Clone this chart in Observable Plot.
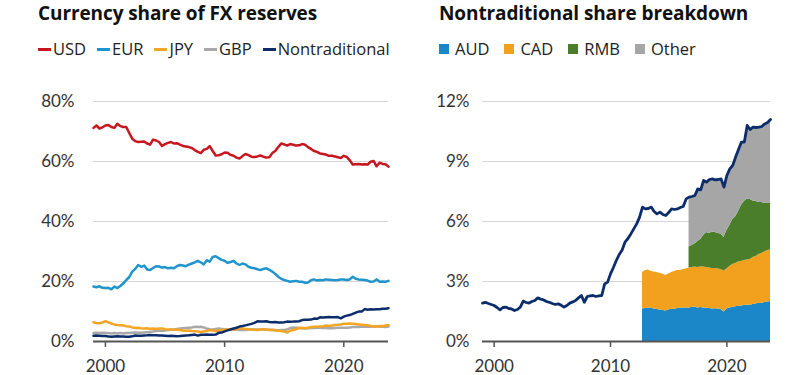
<!DOCTYPE html>
<html><head><meta charset="utf-8">
<script src="https://cdn.jsdelivr.net/npm/d3@7"></script>
<script src="https://cdn.jsdelivr.net/npm/@observablehq/plot@0.6"></script>
<style>
body{margin:0;background:#fff;font-family:Lato,sans-serif;}
#wrap{position:relative;width:800px;height:375px;overflow:hidden;background:#fff}
.title{position:absolute;top:0px;font-family:"Open Sans",sans-serif;font-weight:700;font-size:19px;color:#111;white-space:nowrap;line-height:26px;letter-spacing:-0.1px}
.legend{position:absolute;top:38px;display:flex;align-items:center;font-family:"Open Sans",sans-serif;font-size:16.5px;color:#222;white-space:nowrap;line-height:22px}
.item{display:flex;align-items:center;margin-right:11px}
.dash{width:13px;height:3px;margin-right:2px}
.sq{width:10px;height:10px;margin-right:6px}
.chart{position:absolute;top:70px}
</style></head>
<body><div id="wrap">
<div class="title" style="left:38px">Currency share of FX reserves</div>
<div class="title" style="left:439px">Nontraditional share breakdown</div>
<div class="legend" id="leg1" style="left:38px"></div>
<div class="legend" id="leg2" style="left:439px"></div>
<div class="chart" id="c1" style="left:0px"></div>
<div class="chart" id="c2" style="left:400px"></div>
</div>
<script>
// Quarterly observations, 1999Q1 .. 2023Q4
const startYear = 1999;

const lineNames = ["USD", "EUR", "JPY", "GBP", "Nontraditional"];
const lineColors = ["#c8161e", "#1f95cc", "#f4a524", "#a8a8a8", "#0c2d6b"];

const usd = [
 71.2,72.0,71.0,71.4, 72.0,72.2,71.5,71.2, 72.6,71.8,71.5,71.5, 69.5,67.6,66.8,66.5,
 66.6,66.7,66.0,65.6, 67.3,67.0,66.5,65.2, 65.8,66.2,66.5,66.0, 66.1,65.6,65.2,65.0,
 64.8,64.5,63.8,63.2, 62.8,63.9,64.2,65.1, 63.5,62.0,62.1,62.4, 63.0,62.9,62.2,61.9,
 61.3,61.0,61.8,62.5, 62.1,61.6,61.5,61.7, 62.0,61.6,61.3,61.4, 62.8,63.5,64.8,66.0,
 65.7,65.3,65.8,65.6, 65.3,65.4,65.8,65.6, 64.8,64.2,63.5,63.2, 62.7,62.5,62.3,61.9,
 61.9,61.7,61.4,61.2, 61.9,61.5,60.4,59.0, 59.1,59.2,59.0,59.1, 59.0,59.9,60.2,58.4,
 59.6,59.2,59.1,58.3];
const eur = [
 18.3,18.1,18.4,17.9, 17.8,17.9,17.4,18.3, 17.8,18.5,19.4,20.5, 21.5,23.3,24.2,25.5,
 24.9,25.3,24.0,23.8, 24.5,25.1,25.0,24.6, 24.8,24.4,24.6,24.4, 25.1,25.5,25.3,25.1,
 25.6,26.0,26.4,26.9, 26.4,25.7,27.1,26.6, 28.2,28.4,27.8,27.2, 26.9,26.2,26.5,26.9,
 26.0,25.5,26.0,25.7, 24.9,24.6,24.4,24.1, 23.8,24.2,24.4,23.9, 23.3,22.5,21.6,20.9,
 20.5,20.2,19.9,20.1, 20.2,19.9,19.9,19.6, 19.7,20.4,20.7,20.3, 20.5,20.4,20.7,20.6,
 20.5,20.4,20.5,20.7, 20.7,20.5,20.7,21.6, 20.9,20.7,20.6,20.5, 20.3,19.9,20.0,20.7,
 19.9,20.0,19.9,20.2];
const jpy = [
 6.4,6.2,6.1,6.3, 6.8,6.4,6.0,5.7, 5.5,5.4,5.3,5.1, 5.0,4.7,4.5,4.6,
 4.4,4.3,4.4,4.2, 4.3,4.2,4.3,4.3, 4.1,4.0,4.0,3.9, 3.9,3.8,3.7,3.6,
 3.7,3.5,3.4,3.3, 3.2,3.3,3.5,3.8, 3.7,3.5,3.7,3.8, 3.9,4.0,4.1,4.2,
 4.1,4.3,4.3,4.2, 4.1,4.0,3.9,3.8, 4.0,4.1,3.9,3.8, 3.9,3.7,3.6,3.5,
 3.3,3.0,3.6,3.8, 4.1,4.5,4.6,4.4, 4.6,4.8,4.9,4.9, 5.0,5.1,5.3,5.2,
 5.3,5.5,5.6,5.7, 5.9,5.9,6.0,5.9, 5.8,5.7,5.6,5.5, 5.4,5.2,4.9,5.1,
 5.2,5.1,5.3,5.5];
const gbp = [
 2.8,2.9,2.8,2.9, 2.8,2.8,2.7,2.8, 2.7,2.8,2.7,2.8, 2.8,2.9,3.0,2.9,
 2.9,3.0,3.1,3.2, 3.3,3.5,3.6,3.6, 3.7,3.8,3.9,4.0, 4.2,4.3,4.4,4.5,
 4.6,4.7,4.9,4.8, 4.9,4.7,4.3,4.1, 4.0,4.2,4.3,4.2, 4.1,4.0,3.9,3.9,
 3.9,3.8,3.9,3.8, 3.9,4.0,4.0,4.0, 3.9,4.0,4.0,3.9, 3.8,3.8,3.7,3.8,
 3.8,4.0,4.5,4.7, 4.6,4.5,4.4,4.3, 4.4,4.5,4.5,4.6, 4.6,4.5,4.5,4.4,
 4.4,4.5,4.6,4.6, 4.6,4.6,4.7,4.8, 4.8,4.8,4.9,4.9, 5.0,4.9,5.0,5.1,
 4.9,4.9,4.8,5.0];
const nontraditional = [
 1.92,1.96,1.90,1.85, 1.80,1.70,1.58,1.70, 1.72,1.65,1.63,1.55, 1.60,1.72,2.02,1.95,
 1.92,2.00,2.05,2.18, 2.12,2.08,2.00,1.96, 1.90,1.85,1.88,1.82, 1.72,1.80,1.92,1.98,
 2.05,2.18,2.30,1.96, 2.25,2.28,2.30,2.25, 2.28,2.30,2.88,2.97, 3.38,3.70,4.05,4.35,
 4.58,4.97,5.15,5.38, 5.63,5.88,6.22,6.72, 6.63,6.65,6.72,6.50, 6.38,6.47,6.35,6.30,
 6.45,6.63,6.60,6.63, 6.70,6.75,7.13,7.22, 7.25,7.30,7.63,7.58, 8.05,7.97,8.10,8.13,
 8.08,8.10,8.13,7.72, 8.30,8.63,8.80,9.22, 9.60,9.97,9.97,10.80, 10.60,10.72,10.70,10.72,
 10.75,10.88,10.95,11.10];

// Nontraditional breakdown (stacked areas)
const stackNames = ["AUD", "CAD", "RMB", "Other"];
const stackColors = ["#1b87c9", "#f2a11f", "#4a7e2b", "#a6a6a6"];
const audCadStart = 2012.75; // 2012Q4
const rmbOtherStart = 2016.75; // 2016Q4
const aud = [
 1.63,
 1.65,1.68,1.66,1.62, 1.60,1.58,1.55,1.52, 1.58,1.62,1.60,1.65, 1.66,1.68,1.67,1.68,
 1.70,1.72,1.68,1.70, 1.68,1.66,1.65,1.62, 1.64,1.62,1.60,1.48, 1.62,1.68,1.70,1.74,
 1.76,1.78,1.80,1.82, 1.80,1.85,1.88,1.92, 1.90,1.95,1.98,2.00];
const cad = [
 1.82,
 1.90,1.90,1.84,1.86, 1.85,1.82,1.83,1.78, 1.80,1.83,1.90,1.90, 1.89,1.92,1.95,2.00,
 2.00,2.00,2.02,2.02, 2.04,2.04,2.03,2.03, 2.01,2.00,2.00,2.04, 2.01,2.07,2.15,2.16,
 2.21,2.22,2.25,2.26, 2.30,2.35,2.37,2.43, 2.50,2.53,2.57,2.58];
const rmb = [
 1.04,
 1.10,1.16,1.30,1.38, 1.58,1.75,1.72,1.82, 1.80,1.78,1.78,1.68, 1.92,2.05,2.25,2.32,
 2.53,2.80,2.95,3.05, 3.00,2.82,2.75,2.60, 2.55,2.42,2.37,2.34];
const other = [
 2.50,
 2.45,2.42,2.63,2.48, 2.75,2.52,2.70,2.66, 2.63,2.70,2.75,2.52, 2.75,2.83,2.70,3.00,
 3.10,3.17,2.97,3.67, 3.50,3.70,3.70,3.77, 3.80,3.98,4.03,4.18];

const leftTicksY = [0, 20, 40, 60, 80];
const rightTicksY = [0, 3, 6, 9, 12];
const yearTicks = [2000, 2010, 2020];

// ---- legends ----
const leg1 = document.getElementById("leg1");
lineNames.forEach((n, i) => {
  const it = document.createElement("div"); it.className = "item";
  it.innerHTML = `<span class="dash" style="background:${lineColors[i]}"></span><span>${n}</span>`;
  leg1.appendChild(it);
});
const leg2 = document.getElementById("leg2");
stackNames.forEach((n, i) => {
  const it = document.createElement("div"); it.className = "item"; it.style.marginRight = "15px";
  it.innerHTML = `<span class="sq" style="background:${stackColors[i]}"></span><span>${n}</span>`;
  leg2.appendChild(it);
});

// ---- data tables ----
const q = i => startYear + i / 4;
const lineSeries = {USD: usd, EUR: eur, JPY: jpy, GBP: gbp, Nontraditional: nontraditional};
const drawOrder = ["EUR", "USD", "GBP", "JPY", "Nontraditional"];
const lineRows = [];
for (const n of drawOrder) lineSeries[n].forEach((v, i) => lineRows.push({x: q(i), y: v, series: n}));
const ntRows = nontraditional.map((v, i) => ({x: q(i), y: v}));

const stackRows = [];
const stackData = {AUD: [aud, audCadStart], CAD: [cad, audCadStart], RMB: [rmb, rmbOtherStart], Other: [other, rmbOtherStart]};
for (const n of stackNames) {
  const [vals, s] = stackData[n];
  vals.forEach((v, i) => stackRows.push({x: s + i / 4, y: v, series: n}));
}

const baseStyle = {fontFamily: "Lato, sans-serif", fontSize: "17px", color: "#333", background: "transparent", overflow: "visible"};

const left = Plot.plot({
  width: 400, height: 305, marginTop: 31, marginBottom: 34, marginLeft: 93, marginRight: 12,
  style: baseStyle,
  x: {domain: [1999, 2023.75]},
  y: {domain: [0, 80]},
  color: {domain: lineNames, range: lineColors},
  marks: [
    Plot.gridY(leftTicksY.slice(1), {stroke: "#d6d6d6", strokeOpacity: 1, strokeWidth: 1}),
    Plot.axisY(leftTicksY, {tickSize: 0, tickPadding: 19, tickFormat: d => d + "%", label: null, fill: "#333"}),
    Plot.axisX(yearTicks, {tickSize: 6, tickPadding: 12, tickFormat: "d", label: null, stroke: "#555", fill: "#333", strokeWidth: 1.5}),
    Plot.lineY(lineRows, {x: "x", y: "y", z: "series", stroke: "series", strokeWidth: 2.5, strokeLinejoin: "round"}),
    Plot.ruleY([0], {stroke: "#555", strokeWidth: 2})
  ]
});
document.getElementById("c1").appendChild(left);

const right = Plot.plot({
  width: 400, height: 305, marginTop: 31, marginBottom: 34, marginLeft: 82, marginRight: 30,
  style: baseStyle,
  x: {domain: [1999, 2023.75]},
  y: {domain: [0, 12]},
  color: {domain: stackNames, range: stackColors},
  marks: [
    Plot.gridY(rightTicksY.slice(1), {stroke: "#d6d6d6", strokeOpacity: 1, strokeWidth: 1}),
    Plot.axisY(rightTicksY, {tickSize: 0, tickPadding: 13, tickFormat: d => d + "%", label: null, fill: "#333"}),
    Plot.axisX(yearTicks, {tickSize: 6, tickPadding: 12, tickFormat: "d", label: null, stroke: "#555", fill: "#333", strokeWidth: 1.5}),
    Plot.areaY(stackRows, {x: "x", y: "y", fill: "series", order: stackNames}),
    Plot.lineY(ntRows, {x: "x", y: "y", stroke: "#0c2d6b", strokeWidth: 2.8, strokeLinejoin: "round"}),
    Plot.ruleY([0], {stroke: "#555", strokeWidth: 2})
  ]
});
document.getElementById("c2").appendChild(right);
</script>
</body></html>
